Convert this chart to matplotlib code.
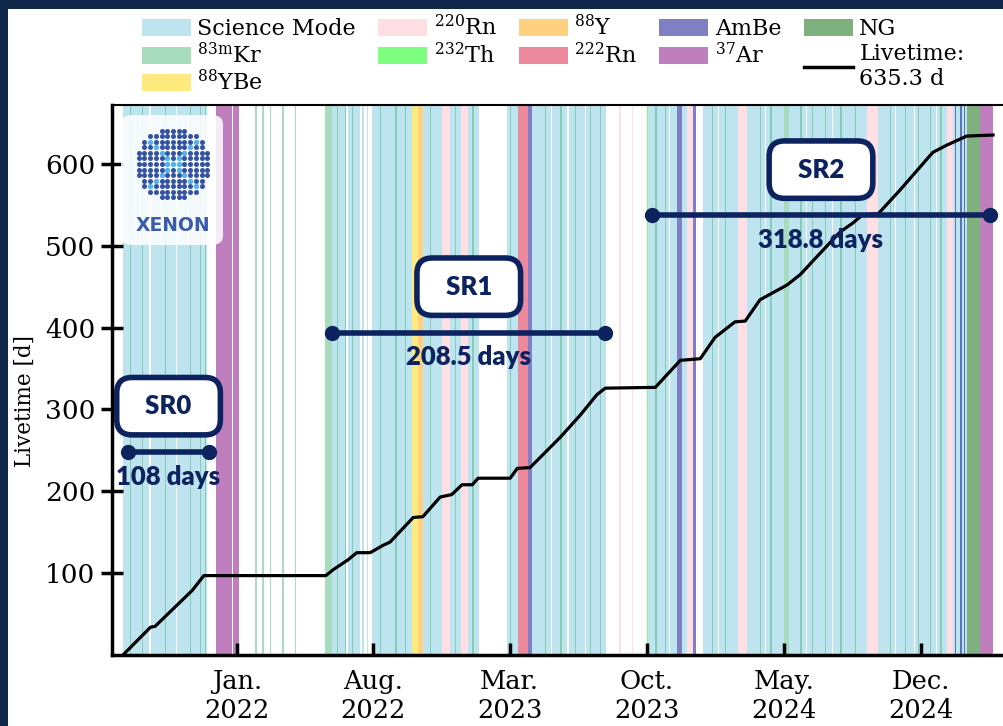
import numpy as np
import pandas as pd
import matplotlib
matplotlib.use("Agg")
import matplotlib.pyplot as plt
from matplotlib.patches import Patch, FancyBboxPatch, Rectangle
from matplotlib.lines import Line2D

plt.rcParams["font.family"] = ["DejaVu Serif"]
plt.rcParams["mathtext.fontset"] = "dejavuserif"

NAVY = "#0c2360"

# cumulative livetime
lt_dates = ["2021-07-07", "2021-08-19", "2021-08-26", "2021-10-23", "2021-11-10",
            "2022-05-19", "2022-05-30", "2022-06-22", "2022-07-06", "2022-07-27",
            "2022-08-16", "2022-08-27", "2022-10-02", "2022-10-17", "2022-11-13",
            "2022-12-01", "2022-12-17", "2023-01-02", "2023-01-11", "2023-03-02",
            "2023-03-13", "2023-04-02", "2023-05-19", "2023-06-19", "2023-07-15",
            "2023-07-28", "2023-10-14", "2023-11-22", "2023-12-23", "2024-01-15",
            "2024-02-15", "2024-03-02", "2024-03-25", "2024-05-06", "2024-05-27",
            "2024-06-22", "2024-07-28", "2024-08-17", "2024-09-01", "2024-09-25",
            "2024-10-29", "2024-12-19", "2025-01-10", "2025-02-10", "2025-03-23"]
lt_vals = [0, 34, 35, 79, 97, 97, 104, 116, 125, 125, 134, 138, 168, 169, 193,
           196, 208, 208, 216, 216, 228, 229, 266, 293, 318, 326, 327, 360, 362, 388,
           407, 408, 434, 452, 465, 487, 517, 528, 538, 539, 568, 614, 623, 634, 635.3]

# detector modes (start, end)
science = [("2021-07-07", "2021-08-05"), ("2021-08-06", "2021-08-17"), ("2021-08-19", "2021-09-27"),
           ("2021-09-29", "2021-10-25"), ("2021-10-26", "2021-11-15"),
           ("2022-05-29", "2022-06-20"), ("2022-06-22", "2022-07-11"), ("2022-07-15", "2022-07-17"),
           ("2022-07-22", "2022-07-24"), ("2022-07-30", "2022-08-25"), ("2022-08-26", "2022-09-30"),
           ("2022-10-17", "2022-11-16"), ("2022-11-29", "2022-12-15"), ("2022-12-26", "2023-01-12"),
           ("2023-02-25", "2023-03-14"), ("2023-04-05", "2023-05-05"), ("2023-05-06", "2023-05-30"),
           ("2023-06-01", "2023-06-27"), ("2023-06-28", "2023-07-29"),
           ("2023-10-03", "2023-11-05"), ("2023-11-06", "2023-11-17"), ("2023-11-24", "2023-12-02"),
           ("2023-12-27", "2024-01-20"), ("2024-01-21", "2024-02-20"),
           ("2024-03-05", "2024-04-02"), ("2024-04-03", "2024-05-01"), ("2024-05-09", "2024-06-05"),
           ("2024-06-06", "2024-07-15"), ("2024-07-17", "2024-08-10"), ("2024-08-11", "2024-09-08"),
           ("2024-09-25", "2024-10-22"), ("2024-10-23", "2024-11-20"), ("2024-11-22", "2024-12-24"),
           ("2024-12-25", "2025-01-10"), ("2025-01-20", "2025-02-10")]
kr83m_days = ["2021-07-18", "2021-08-05", "2021-09-10", "2021-10-19", "2021-11-04", "2021-11-12",
              "2022-01-29", "2022-02-09", "2022-02-21", "2022-03-12", "2022-04-01",
              "2022-06-05", "2022-06-18", "2022-06-29", "2022-08-11", "2022-09-04", "2022-09-19",
              "2022-10-28", "2022-12-06", "2023-01-02", "2023-03-02", "2023-04-25", "2023-05-19",
              "2023-06-11", "2023-07-04", "2023-07-20", "2023-10-14", "2023-10-29", "2024-01-10",
              "2024-01-30", "2024-03-25", "2024-04-10", "2024-05-27", "2024-06-14", "2024-07-04",
              "2024-07-28", "2024-08-20", "2024-10-13", "2024-11-06", "2024-11-26", "2024-12-15",
              "2024-12-31"]
kr83m = [("2022-05-18", "2022-05-29"), ("2024-05-01", "2024-05-09")] + \
        [(d, str((pd.Timestamp(d) + pd.Timedelta(days=2)).date())) for d in kr83m_days]
ybe88 = [("2022-09-30", "2022-10-10")]
rn220 = [("2022-11-16", "2022-11-29"), ("2022-12-15", "2022-12-26"), ("2023-08-19", "2023-08-21"),
         ("2023-09-07", "2023-09-09"), ("2023-12-02", "2023-12-11"), ("2024-02-20", "2024-03-05"),
         ("2024-09-08", "2024-09-25"), ("2025-01-10", "2025-01-20")]
th232 = [("2023-10-01", "2023-10-03")]
rn222 = [("2023-03-14", "2023-03-30")]
y88 = [("2022-10-10", "2022-10-17")]
ambe = [("2023-03-30", "2023-04-05"), ("2023-11-17", "2023-11-24"), ("2023-12-11", "2023-12-17"),
        ("2025-01-22", "2025-01-25"), ("2025-01-30", "2025-02-02"), ("2025-02-05", "2025-02-08")]
ar37 = [("2021-11-29", "2021-12-24"), ("2021-12-26", "2022-01-04"), ("2025-03-02", "2025-03-23")]
ng = [("2025-02-10", "2025-03-02")]

modes = [("Science Mode", science, "#a8dcec", 0.75),
         (r"$^{83\mathrm{m}}$Kr", kr83m, "mediumseagreen", 0.45),
         (r"$^{88}$YBe", ybe88, "gold", 0.5),
         (r"$^{220}$Rn", rn220, "pink", 0.5),
         (r"$^{232}$Th", th232, "lime", 0.5),
         (r"$^{88}$Y", y88, "orange", 0.5),
         (r"$^{222}$Rn", rn222, "crimson", 0.5),
         ("AmBe", ambe, "darkblue", 0.5),
         (r"$^{37}$Ar", ar37, "purple", 0.5),
         ("NG", ng, "darkgreen", 0.5)]

# science runs: name, start, end, height, livetime
runs = [("SR0", "2021-07-15", "2021-11-18", 248, "108 days"),
        ("SR1", "2022-05-29", "2023-07-28", 394, "208.5 days"),
        ("SR2", "2023-10-09", "2025-03-18", 537, "318.8 days")]

xtick_dates = ["2022-01-01", "2022-08-01", "2023-03-01", "2023-10-01", "2024-05-01", "2024-12-01"]
xtick_labels = ["Jan.\n2022", "Aug.\n2022", "Mar.\n2023", "Oct.\n2023", "May.\n2024", "Dec.\n2024"]


def main():
    fig = plt.figure(figsize=(10.04, 7.26), dpi=100)
    ax = fig.add_axes([0.1116, 0.0978, 0.8884, 0.7576])

    handles = []
    for label, spans, col, a in modes:
        for s, e in spans:
            ax.axvspan(pd.Timestamp(s), pd.Timestamp(e), color=col, alpha=a, lw=0, zorder=1)
        handles.append(Patch(facecolor=col, alpha=a, edgecolor="none", label=label))

    ax.plot(pd.to_datetime(lt_dates), lt_vals, color="black", lw=2.3, zorder=3)
    handles.append(Line2D([], [], color="black", lw=2.5, label="Livetime:\n635.3 d"))

    for name, s, e, h, dur in runs:
        t0, t1 = pd.Timestamp(s), pd.Timestamp(e)
        mid = t0 + (t1 - t0) / 2
        ax.plot([t0, t1], [h, h], color=NAVY, lw=4, marker="o", ms=10, zorder=5)
        ax.text(mid, h - 30, dur, ha="center", va="center", fontsize=18.5, family="Lato",
                fontweight="heavy", color=NAVY, zorder=6)
        ax.text(mid, h + 56, "  " + name + "  ", ha="center", va="center", fontsize=18.5,
                family="Lato", fontweight="heavy", color=NAVY, zorder=6,
                bbox=dict(boxstyle="round,pad=0.65,rounding_size=0.6", fc="white", ec=NAVY, lw=4))

    ax.set_xlim(pd.Timestamp("2021-06-20"), pd.Timestamp("2025-04-09"))
    ax.set_ylim(0, 672)
    ax.set_xticks(pd.to_datetime(xtick_dates))
    ax.set_xticklabels(xtick_labels, fontsize=18.5)
    ax.set_yticks([100, 200, 300, 400, 500, 600])
    ax.tick_params(axis="y", labelsize=19, direction="inout", length=16, width=2.5, pad=4)
    ax.tick_params(axis="x", direction="in", length=9, width=2.5, pad=10)
    for sp in ["left", "bottom"]:
        ax.spines[sp].set_linewidth(2.5)
    ax.spines["top"].set_linewidth(1.5)
    ax.spines["right"].set_visible(False)

    fig.text(25 / 1004, 1 - 401 / 726, "Livetime [d]", rotation=90, ha="center", va="center",
             fontsize=15.5)

    fig.legend(handles=handles, ncol=5, loc="upper left", bbox_to_anchor=(0.13, 0.995),
               frameon=False, fontsize=16, handlelength=2.2, handleheight=0.8,
               handletextpad=0.3, columnspacing=1.0, labelspacing=0.12, borderpad=0)

    # logo
    fig.patches.append(FancyBboxPatch((121 / 1004, 1 - 245 / 726), 102 / 1004, 130 / 726,
                                      boxstyle="round,pad=0,rounding_size=0.012",
                                      transform=fig.transFigure, fc="white", ec="none",
                                      alpha=0.85, zorder=4))
    lax = fig.add_axes([133 / 1004, 1 - 203 / 726, 80 / 1004, 78 / 726])
    lax.set_zorder(5)
    lax.patch.set_alpha(0)
    ii, jj = np.meshgrid(np.arange(-6, 7), np.arange(-6, 7))
    keep = ii ** 2 + jj ** 2 <= 42.5
    light = keep & (((np.abs(ii) == np.abs(jj)) & (np.abs(ii) >= 1)) | ((jj == 0) & (np.abs(ii) <= 1)))
    lax.scatter(ii[keep & ~light], jj[keep & ~light], s=13, color="#3451a2", lw=0)
    lax.scatter(ii[light], jj[light], s=15, color="#55b2ea", lw=0)
    lax.set_xlim(-7, 7)
    lax.set_ylim(-7, 7)
    lax.axis("off")
    fig.text(173 / 1004, 1 - 226 / 726, "XENON", ha="center", va="center", fontsize=13.5,
             family="DejaVu Sans", fontweight="bold", color="#3b5cad", zorder=6)

    # navy frame edges
    fig.patches.append(Rectangle((0, 1 - 9 / 726), 1, 9 / 726, transform=fig.transFigure,
                                 fc="#10284a", ec="none", zorder=10))
    fig.patches.append(Rectangle((0, 0), 8 / 1004, 1, transform=fig.transFigure,
                                 fc="#10284a", ec="none", zorder=10))

    fig.savefig("out.png", dpi=100)


if __name__ == '__main__':
    main()
